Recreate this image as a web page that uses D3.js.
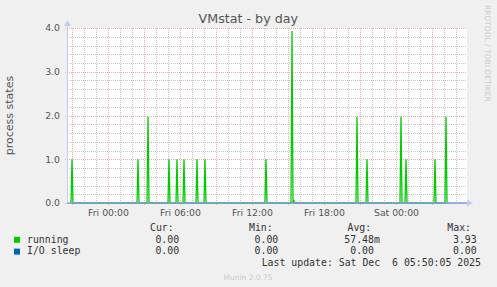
<!DOCTYPE html>
<html><head><meta charset="utf-8">
<script src="https://cdn.jsdelivr.net/npm/d3@7"></script>
<style>body{margin:0;background:#f0f0f0}svg{display:block}</style>
</head><body><svg id="c" width="497" height="287"></svg>
<script>
const title = "VMstat - by day";
const yLabel = "process states";
const sideLabel = "RRDTOOL / TOBI OETIKER";
const footer = "Munin 2.0.75";
const seriesNames = ["running", "I/O sleep"];
const seriesColors = ["#00cc00", "#0066b3"];
const yTicks = [0, 1, 2, 3, 4];
const xTickLabels = ["Fri 00:00", "Fri 06:00", "Fri 12:00", "Fri 18:00", "Sat 00:00"];
const xTickTimes = ["2025-12-05T00:00", "2025-12-05T06:00", "2025-12-05T12:00", "2025-12-05T18:00", "2025-12-06T00:00"];
const timeDomain = ["2025-12-04T20:35", "2025-12-06T05:55"];
// running: spikes (5-minute samples), everything else 0
const spikeTimes = ["2025-12-04T21:00", "2025-12-05T02:30", "2025-12-05T03:20", "2025-12-05T05:05",
  "2025-12-05T05:45", "2025-12-05T06:20", "2025-12-05T07:25", "2025-12-05T08:05", "2025-12-05T13:10",
  "2025-12-05T15:20", "2025-12-05T15:30", "2025-12-05T20:45", "2025-12-05T21:35", "2025-12-06T00:25",
  "2025-12-06T00:50", "2025-12-06T03:15", "2025-12-06T04:10"];
const runningValues = [1.0, 1.0, 1.97, 1.0, 1.0, 1.0, 1.0, 1.0, 1.0, 3.93, 0.05, 1.97, 1.0, 1.97, 1.0, 1.0, 1.97];
const ioSleepValues = [0, 0];
const statHeaders = ["Cur:", "Min:", "Avg:", "Max:"];
const curValues = ["0.00", "0.00"];
const minValues = ["0.00", "0.00"];
const avgValues = ["57.48m", "0.00"];
const maxValues = ["3.93", "0.00"];
const lastUpdate = "Last update: Sat Dec  6 05:50:05 2025";

const parse = d3.timeParse("%Y-%m-%dT%H:%M");
const svg = d3.select("#c");
const L = 67, R = 467, T = 28, B = 203;
const x = d3.scaleTime().domain(timeDomain.map(parse)).range([L, R]);
const y = d3.scaleLinear().domain([0, 4]).range([B, T]);
const SANS = "DejaVu Sans", MONO = "DejaVu Sans Mono";
const MINOR = "#c4c4c4", MAJOR = "#e8b0b0";

svg.append("rect").attr("width", 497).attr("height", 287).attr("fill", "#f0f0f0");
svg.append("rect").attr("x", L).attr("y", T).attr("width", R - L).attr("height", B - T).attr("fill", "#ffffff");

// grid
const [t0, t1] = x.domain();
const hours = d3.timeHour.range(t0, t1);
const g = svg.append("g").attr("shape-rendering", "crispEdges");
hours.filter(h => h.getHours() % 3 !== 0).forEach(h => {
  g.append("line").attr("x1", Math.round(x(h)) + 0.5).attr("x2", Math.round(x(h)) + 0.5)
    .attr("y1", T).attr("y2", B).attr("stroke", MINOR).attr("stroke-dasharray", "1,1");
});
d3.range(0, 4.001, 0.2).filter(v => Math.abs(v - Math.round(v)) > 0.01).forEach(v => {
  g.append("line").attr("x1", L).attr("x2", R).attr("y1", Math.round(y(v)) + 0.5).attr("y2", Math.round(y(v)) + 0.5)
    .attr("stroke", MINOR).attr("stroke-dasharray", "1,1");
});
hours.filter(h => h.getHours() % 3 === 0).forEach(h => {
  g.append("line").attr("x1", Math.round(x(h)) + 0.5).attr("x2", Math.round(x(h)) + 0.5)
    .attr("y1", T).attr("y2", B + 3).attr("stroke", MAJOR).attr("stroke-dasharray", "1,1");
});
yTicks.forEach(v => {
  g.append("line").attr("x1", L - 2).attr("x2", R).attr("y1", Math.round(y(v)) + 0.5).attr("y2", Math.round(y(v)) + 0.5)
    .attr("stroke", MAJOR).attr("stroke-dasharray", "1,1");
});

// series
const runPts = [];
spikeTimes.forEach((s, i) => {
  const t = parse(s);
  runPts.push([d3.timeMinute.offset(t, -5), 0], [t, runningValues[i]], [d3.timeMinute.offset(t, 5), 0]);
});
const line = d3.line().x(d => x(d[0])).y(d => y(d[1]));
svg.append("path").attr("d", line(runPts)).attr("fill", "none")
  .attr("stroke", seriesColors[0]).attr("stroke-width", 1.3).attr("stroke-linejoin", "miter");
svg.append("path").attr("d", line([[t0, ioSleepValues[0]], [t1, ioSleepValues[1]]])).attr("fill", "none")
  .attr("stroke", "#7b9be0").attr("stroke-width", 1.5);

// axes lines and arrows
svg.append("line").attr("x1", L + 0.5).attr("x2", L + 0.5).attr("y1", B).attr("y2", T - 5)
  .attr("stroke", "#c4cbef").attr("stroke-width", 1);
svg.append("path").attr("d", `M${L - 3},${T - 2} L${L + 0.5},${T - 8} L${L + 4},${T - 2} Z`).attr("fill", "#c4cbef");
svg.append("path").attr("d", `M${R},${B - 3.5} L${R + 6},${B} L${R},${B + 3.5} Z`).attr("fill", "#c4cbef");

// axis labels via d3 axes
const ya = svg.append("g").attr("transform", `translate(${L},0)`)
  .call(d3.axisLeft(y).tickValues(yTicks).tickFormat(d3.format(".1f")).tickSize(0).tickPadding(7));
ya.select(".domain").remove();
ya.selectAll("text").attr("font-family", SANS).attr("font-size", 9.3).attr("fill", "#555");
const xa = svg.append("g").attr("transform", `translate(0,${B})`)
  .call(d3.axisBottom(x).tickValues(xTickTimes.map(parse)).tickFormat((d, i) => xTickLabels[i]).tickSize(0).tickPadding(6.5));
xa.select(".domain").remove();
xa.selectAll("text").attr("font-family", SANS).attr("font-size", 9.3).attr("fill", "#555");

// texts
svg.append("text").attr("x", 248.3).attr("y", 23.4).attr("text-anchor", "middle")
  .attr("font-family", SANS).attr("font-size", 12.7).attr("fill", "#555").text(title);
svg.append("text").attr("transform", "translate(12.8,115.5) rotate(-90)").attr("text-anchor", "middle")
  .attr("font-family", SANS).attr("font-size", 11).attr("fill", "#555").text(yLabel);
svg.append("text").attr("transform", "translate(485,5) rotate(90)").attr("text-anchor", "start")
  .attr("font-family", SANS).attr("font-size", 7.5).attr("fill", "#cccccc").text(sideLabel);
svg.append("text").attr("x", 248).attr("y", 279.5).attr("text-anchor", "middle")
  .attr("font-family", SANS).attr("font-size", 7.5).attr("fill", "#cccccc").text(footer);

// legend
const mono = (tx, ty, s) => svg.append("text").attr("x", tx).attr("y", ty).attr("font-family", MONO)
  .attr("font-size", 9.85).attr("fill", "#333").style("white-space", "pre").text(s);
const headerX = [150, 249, 347.5, 447.3];
statHeaders.forEach((h, i) => mono(headerX[i], 230.6, h));
const rowY = [242.6, 254.4];
const cw = 5.93;
seriesNames.forEach((n, i) => {
  svg.append("rect").attr("x", 14).attr("y", rowY[i] - 5.8).attr("width", 6).attr("height", 6).attr("fill", seriesColors[i]);
  mono(27, rowY[i], n);
  const endCur = 179.1, endMin = 278.3, endAvg = 379.9, endMax = 476.7;
  mono(endCur - curValues[i].length * cw, rowY[i], curValues[i]);
  mono(endMin - minValues[i].length * cw, rowY[i], minValues[i]);
  const av = avgValues[i];
  const avLen = /[0-9]$/.test(av) ? av.length + 1 : av.length;
  mono(endAvg - avLen * cw, rowY[i], av);
  mono(endMax - maxValues[i].length * cw, rowY[i], maxValues[i]);
});
mono(261.7, 266.2, lastUpdate);
</script></body></html>
